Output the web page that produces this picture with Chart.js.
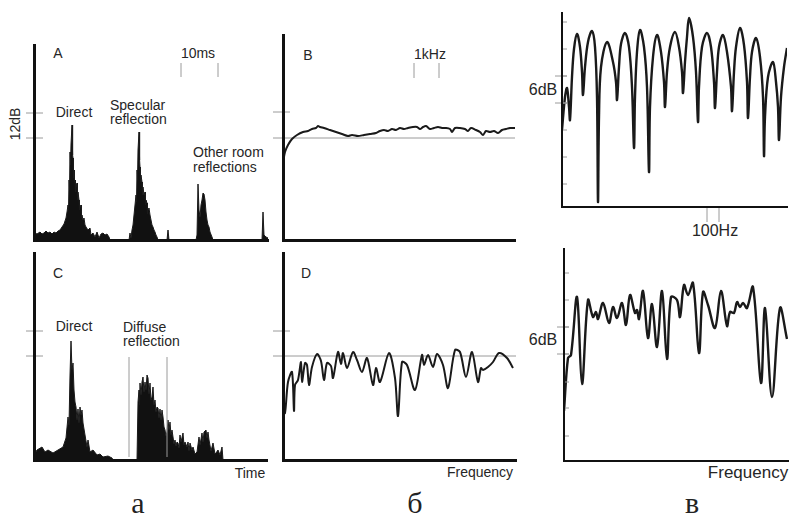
<!DOCTYPE html>
<html>
<head>
<meta charset="utf-8">
<script src="https://cdn.jsdelivr.net/npm/chart.js@4.4.0/dist/chart.umd.min.js"></script>
<style>
  html, body { margin: 0; padding: 0; background: #fff; overflow: hidden; }
  #wrap { position: relative; width: 789px; height: 517px; }
  canvas { position: absolute; }
  .t { position: absolute; font-family: "Liberation Sans", Arial, sans-serif; font-size: 14px; line-height: 1; color: #262626; white-space: nowrap; }
  .c { transform: translate(-50%, -50%); }
  .l { transform: translateY(-50%); }
  .big { font-size: 16px; }
  .cap { position: absolute; font-family: "Liberation Serif", "Times New Roman", serif; font-size: 30px; line-height: 1; color: #222; transform: translateX(-50%); }
</style>
</head>
<body>
<div id="wrap">
  <div class="t c" style="left:58px;top:53px">A</div>
  <div class="t c" style="left:198px;top:53px">10ms</div>
  <div class="t c" style="left:15px;top:124px;transform:translate(-50%,-50%) rotate(-90deg)">12dB</div>
  <div class="t c" style="left:74px;top:112px">Direct</div>
  <div class="t l" style="left:110px;top:105px">Specular</div>
  <div class="t l" style="left:110px;top:119px">reflection</div>
  <div class="t l" style="left:193px;top:152px">Other room</div>
  <div class="t l" style="left:193px;top:167px">reflections</div>

  <div class="t c" style="left:308px;top:55px">B</div>
  <div class="t c" style="left:430px;top:54px">1kHz</div>

  <div class="t c" style="left:58px;top:273px">C</div>
  <div class="t c" style="left:74px;top:326px">Direct</div>
  <div class="t l" style="left:123px;top:327px">Diffuse</div>
  <div class="t l" style="left:123px;top:341px">reflection</div>
  <div class="t c" style="left:250px;top:473px">Time</div>

  <div class="t c" style="left:306px;top:273px">D</div>
  <div class="t c" style="left:480px;top:472px">Frequency</div>

  <div class="t c big" style="left:543px;top:90px">6dB</div>
  <div class="t c big" style="left:715px;top:231px">100Hz</div>
  <div class="t c big" style="left:543px;top:340px">6dB</div>
  <div class="t c big" style="left:748px;top:472px;font-size:17px">Frequency</div>

  <div class="cap" style="left:138px;top:488px">а</div>
  <div class="cap" style="left:415px;top:488px">б</div>
  <div class="cap" style="left:692px;top:488px">в</div>
</div>
<script>
// A: impulse response, specular room (time in samples, level in arbitrary units)
const aT = [0,1,3,6,8,10,12,14,16,18,20,22,24,26,28,30,32,33,34,34.5,35,35.5,36,36.5,37,38,38.6,39,39.5,40,40.5,41,41.5,42,43,43.5,44,45,45.5,46,47,47.5,48,49,50,51,52,54,56,57,59,61,63,65,67,69,71,73,75,76,95,96,97,98,99,100,101,102,102.5,103,103.5,104,105,105.6,106,106.5,107,108,108.5,109,110,111,111.5,112,113,113.5,114,115,116,117,118,119,120,121,122,123,124,133,134,135,162,163,164,165,166,167,168,169,170,171,172,173,174,175,176,178,179,228,229,230,232,234];
const aLvl = [7,7,6,8,6,7,9,7,8,6,8,7,9,10,13,16,22,28,35,30,60,50,88,75,96,115,85,82,62,70,58,60,48,53,57,40,48,40,30,33,35,22,25,20,22,15,13,10,12,5,7,3,8,2,6,7,5,6,3,0,0,7,2,10,15,25,35,45,38,70,60,90,108,80,73,58,65,58,45,53,45,48,35,40,37,26,30,32,25,20,15,13,10,8,5,3,0,0,10,0,0,5,56,30,23,35,40,47,46,40,28,20,15,13,8,3,0,0,28,5,3,2];
const aTickLvls = [102, 127];     // 12 dB apart
const aMarkT = [147, 184];        // 10 ms

// B: frequency response, specular room
const bF = [0,2,5,9,14,20,25,29,33,35,37,41,47,53,59,65,69,75,81,87,93,97,101,105,109,113,117,121,125,130,134,137,140,143,147,151,155,159,163,167,169,172,177,182,185,188,193,197,200,203,207,211,215,219,223,227,232];
const bLvl = [77,88,95,101,105,108,109,111,112,114,113,112,110,108,106,104,105,104,105,106,107,109,110,109,111,110,112,111,112,113,113,111,113,114,111,112,113,112,112,111,108,112,112,111,109,112,110,108,105,109,108,109,107,110,111,112,112];
const bRefLvl = 102;
const bTickLvl = 128;
const bMarkF = [131, 156];        // 1 kHz

// C: impulse response, diffuse room
const cT = [0,3,8,11,14,19,24,29,32,34,35,36,37,38,39,40,41,42,43,44,45,46,47,48,49,51,53,54,56,59,63,66,69,74,78,79,103,104,105,105.5,106,107,108,109,110,111,112,113,114,115,116,117,118,119,120,121,122,123,124,125,126,127,128,129,130,131,132,133,134,135,136,137,138,139,140,141,142,143,144,145,146,147,149,150,151,153,154,155,156,158,159,161,163,165,166,168,169,170,172,173,174,175,177,178,179,181,182,184,186,188,189,233];
const cLvl = [5,10,13,8,10,7,10,13,22,43,35,85,119,90,97,70,58,53,40,51,37,53,45,50,37,25,13,20,8,10,5,6,3,4,2,0,0,58,70,55,77,65,78,83,68,78,70,85,82,66,77,60,63,73,55,60,48,53,52,42,51,40,50,43,33,30,24,28,40,30,38,25,30,23,16,20,14,18,17,12,25,18,27,15,18,13,18,9,17,10,13,6,8,23,15,27,18,28,30,22,28,20,9,13,17,6,7,10,5,13,0,0];
const cTickLvls = [104, 129];
const cWindowT = [95, 133];

// D: frequency response, diffuse room
const dF = [0,2,5,9,11,12,15,18,19,22,24,26,29,34,38,41,44,48,50,55,58,60,64,70,74,79,84,90,93,97,106,112,115,119,124,132,139,141,145,150,154,160,165,172,177,183,189,195,198,200,205,210,216,224,230];
const dLvl = [55,47,78,88,49,75,80,98,78,97,95,75,93,106,99,80,97,94,82,108,96,107,92,108,100,88,102,75,92,78,107,82,44,98,95,70,105,95,105,93,106,95,72,110,108,83,108,78,92,90,93,98,107,102,92];
const dRefLvl = 104;
const dTickLvl = 129;

// в top: comb filter response
const eF = [0,3,5,7,8,10,12,15,18,20,21,23,26,30,33,35,36,37,39,45,51,54,55,57,59,63,67,70,72,73,75,78,82,85,87,88,91,95,99,102,103,105,108,113,117,120,121,123,125,127,131,134,136,137,140,145,149,152,153,155,157,161,165,169,170,172,174,178,182,185,186,188,190,194,198,201,202,203,206,211,214,216,217,219,222,225];
const eLvl = [77,110,119,100,87,130,158,173,160,135,112,140,165,176,160,110,5,90,140,165,145,125,107,140,163,174,160,120,59,110,155,177,160,120,35,100,150,172,155,125,100,135,160,175,160,135,114,145,170,189,170,135,85,120,160,174,160,125,99,135,160,172,155,120,96,135,160,179,162,125,89,130,155,169,150,110,51,90,130,145,125,100,67,110,140,159];
const eTickLvls = [185,158,131,104,77,50,23];
const eDbLvls = [131, 104];
const eMarkF = [145, 157];        // 100 Hz

// в bottom: diffuser response
const fF = [0,4,7,13,18,24,29,32,34,39,45,49,53,58,62,66,71,73,75,79,84,88,93,98,103,107,113,116,120,124,129,135,139,144,151,157,163,166,170,173,176,179,183,189,197,201,208,216,223];
const fLvl = [50,103,106,164,77,161,144,149,142,158,138,154,143,158,136,166,148,151,142,170,123,157,114,170,102,164,161,144,176,166,178,108,169,156,133,170,135,149,148,159,154,158,153,174,78,153,64,153,122];
const fTickLvls = [188,161,134,107,79,53,25];
const fDbLvls = [134, 107];

const GRAY = '#9a9a9a';

const marksPlugin = {
  id: 'marks',
  beforeDatasetsDraw(chart, args, opts) { drawSegs(chart, opts.under || []); },
  afterDatasetsDraw(chart, args, opts) { drawSegs(chart, opts.over || []); }
};

function drawSegs(chart, segs) {
  const ctx = chart.ctx, x = chart.scales.x, y = chart.scales.y;
  ctx.save();
  segs.forEach(s => {
    ctx.strokeStyle = s.color || GRAY;
    ctx.lineWidth = s.width || 1;
    ctx.beginPath();
    ctx.moveTo(x.getPixelForValue(s.x0), y.getPixelForValue(s.y0));
    ctx.lineTo(x.getPixelForValue(s.x1), y.getPixelForValue(s.y1));
    ctx.stroke();
  });
  ctx.restore();
}

const hTick = (v, a, b) => ({x0: a, x1: b, y0: v, y1: v});
const vTick = (v, a, b) => ({x0: v, x1: v, y0: a, y1: b});

function panel(box, xs, ys, o) {
  const [L, T, R, B] = box;
  const pad = 20;
  const cv = document.createElement('canvas');
  cv.width = R - L + 2 * pad;
  cv.height = B - T + 2 * pad;
  cv.style.left = (L - pad) + 'px';
  cv.style.top = (T - pad) + 'px';
  document.getElementById('wrap').appendChild(cv);
  const axis = (min, max) => ({
    type: 'linear', min: min, max: max,
    grid: {display: false, drawTicks: false},
    ticks: {display: false},
    border: {display: true, width: o.axisWidth, color: '#111', z: 1}
  });
  return new Chart(cv, {
    type: 'line',
    data: {
      datasets: [{
        data: xs.map((v, i) => ({x: v, y: ys[i]})),
        borderColor: '#1a1a1a',
        backgroundColor: '#111',
        borderWidth: o.lineWidth,
        fill: o.fill ? 'origin' : false,
        pointRadius: 0,
        tension: o.tension
      }]
    },
    options: {
      responsive: false,
      animation: false,
      events: [],
      layout: {padding: pad},
      plugins: {
        legend: {display: false},
        tooltip: {enabled: false},
        marks: {under: o.under || [], over: o.over || []}
      },
      scales: {x: axis(0, o.xMax), y: axis(0, o.yMax)}
    },
    plugins: [marksPlugin]
  });
}

panel([34, 45, 268, 240], aT, aLvl, {
  xMax: 234, yMax: 195, fill: true, lineWidth: 1, tension: 0, axisWidth: 3,
  over: aTickLvls.map(v => hTick(v, -8, 9)).concat(aMarkT.map(t => vTick(t, 163, 177)))
});

panel([283, 35, 515, 240], bF, bLvl, {
  xMax: 232, yMax: 205, fill: false, lineWidth: 2, tension: 0.3, axisWidth: 3,
  under: [hTick(bRefLvl, -10, 232)],
  over: [hTick(bTickLvl, -10, 7)].concat(bMarkF.map(f => vTick(f, 162, 177)))
});

panel([34, 253, 267, 460], cT, cLvl, {
  xMax: 233, yMax: 207, fill: true, lineWidth: 1, tension: 0, axisWidth: 3,
  over: cTickLvls.map(v => hTick(v, -8, 9)).concat(cWindowT.map(t => vTick(t, 3, 103)))
});

panel([283, 253, 516, 460], dF, dLvl, {
  xMax: 233, yMax: 207, fill: false, lineWidth: 2, tension: 0.3, axisWidth: 3,
  under: [hTick(dRefLvl, -10, 233)],
  over: [hTick(dTickLvl, -10, 7)]
});

panel([562, 13, 787, 207], eF, eLvl, {
  xMax: 225, yMax: 194, fill: false, lineWidth: 2.4, tension: 0.35, axisWidth: 2,
  over: eTickLvls.map(v => hTick(v, 0, 5)).concat(eDbLvls.map(v => hTick(v, -7, 5)), eMarkF.map(f => vTick(f, -1, -15)))
});

panel([564, 249, 788, 461], fF, fLvl, {
  xMax: 224, yMax: 212, fill: false, lineWidth: 2.4, tension: 0.35, axisWidth: 2,
  over: fTickLvls.map(v => hTick(v, 0, 5)).concat(fDbLvls.map(v => hTick(v, -7, 5)))
});
</script>
</body>
</html>
